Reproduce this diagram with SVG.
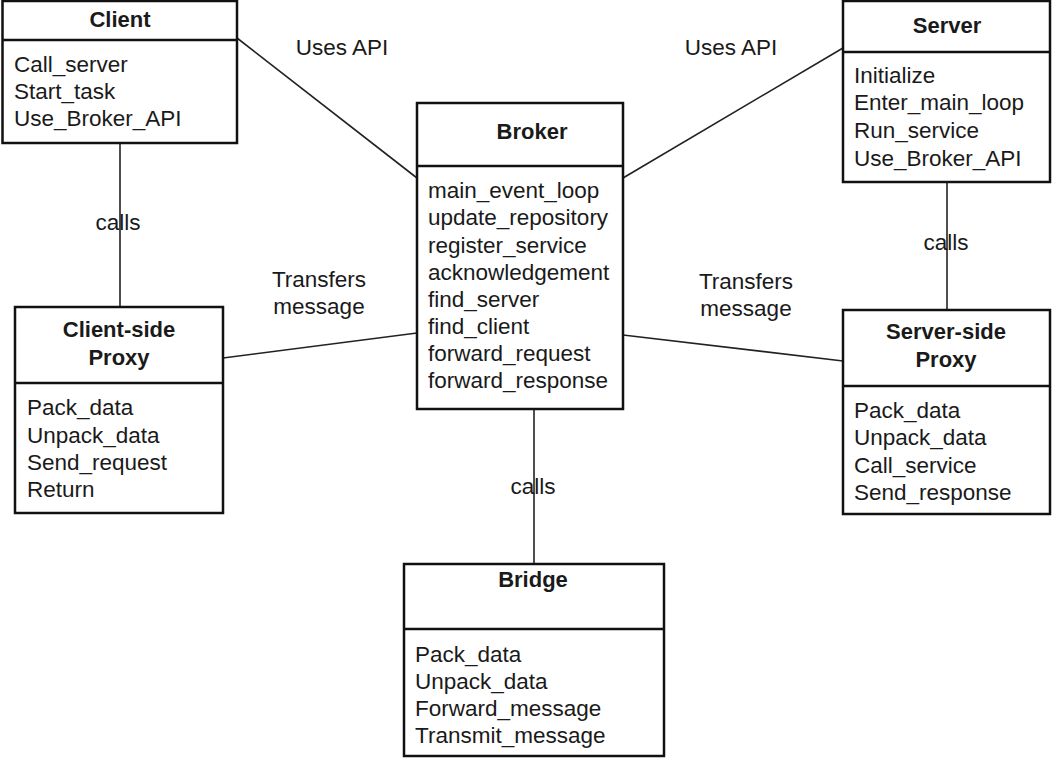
<svg xmlns="http://www.w3.org/2000/svg" width="1052" height="758" viewBox="0 0 1052 758">
<style>
.box{fill:#fff;stroke:#111;stroke-width:2.5}
.div{stroke:#111;stroke-width:2.5}
.ln{stroke:#222;stroke-width:1.6;fill:none}
text{font-family:"Liberation Sans",Arial,sans-serif;font-size:22.5px;fill:#1a1a1a}
.t{font-weight:bold;text-anchor:middle;font-size:22px}
.lbl{text-anchor:middle}
</style>
<rect width="1052" height="758" fill="#fff"/>
<g id="connectors">
<line class="ln" x1="237" y1="38" x2="417" y2="178"/>
<line class="ln" x1="623" y1="178" x2="843" y2="48"/>
<line class="ln" x1="223" y1="358" x2="417" y2="333"/>
<line class="ln" x1="623" y1="335" x2="843" y2="361"/>
<line class="ln" x1="120" y1="143" x2="120" y2="307"/>
<line class="ln" x1="947" y1="182" x2="947" y2="310"/>
<line class="ln" x1="534" y1="409" x2="534" y2="564"/>
<text class="lbl" x="342" y="55">Uses API</text>
<text class="lbl" x="731" y="55">Uses API</text>
<text class="lbl" x="118" y="230">calls</text>
<text class="lbl" x="946" y="250">calls</text>
<text class="lbl" x="533" y="494">calls</text>
<text class="lbl" x="319" y="287">Transfers</text>
<text class="lbl" x="319" y="314">message</text>
<text class="lbl" x="746" y="289">Transfers</text>
<text class="lbl" x="746" y="316">message</text>
</g>
<g id="client">
<rect class="box" x="2.5" y="1" width="234.5" height="142"/>
<line class="div" x1="2.5" y1="40" x2="237" y2="40"/>
<text class="t" x="120" y="27">Client</text>
<text x="14" y="72">Call_server</text>
<text x="14" y="99">Start_task</text>
<text x="14" y="126">Use_Broker_API</text>
</g>
<g id="server">
<rect class="box" x="843" y="1" width="207" height="181"/>
<line class="div" x1="843" y1="52" x2="1050" y2="52"/>
<text class="t" x="947" y="33">Server</text>
<text x="854" y="83">Initialize</text>
<text x="854" y="110">Enter_main_loop</text>
<text x="854" y="138">Run_service</text>
<text x="854" y="166">Use_Broker_API</text>
</g>
<g id="broker">
<rect class="box" x="417" y="103" width="206" height="306"/>
<line class="div" x1="417" y1="166" x2="623" y2="166"/>
<text class="t" x="532" y="139">Broker</text>
<text x="428" y="198">main_event_loop</text>
<text x="428" y="225">update_repository</text>
<text x="428" y="253">register_service</text>
<text x="428" y="280">acknowledgement</text>
<text x="428" y="307">find_server</text>
<text x="428" y="334">find_client</text>
<text x="428" y="361">forward_request</text>
<text x="428" y="388">forward_response</text>
</g>
<g id="client-proxy">
<rect class="box" x="15" y="307" width="208" height="206"/>
<line class="div" x1="15" y1="383" x2="223" y2="383"/>
<text class="t" x="119" y="337">Client-side</text>
<text class="t" x="119" y="365">Proxy</text>
<text x="27" y="415">Pack_data</text>
<text x="27" y="443">Unpack_data</text>
<text x="27" y="470">Send_request</text>
<text x="27" y="497">Return</text>
</g>
<g id="server-proxy">
<rect class="box" x="843" y="310" width="207" height="204"/>
<line class="div" x1="843" y1="386" x2="1050" y2="386"/>
<text class="t" x="946" y="339">Server-side</text>
<text class="t" x="946" y="367">Proxy</text>
<text x="854" y="418">Pack_data</text>
<text x="854" y="445">Unpack_data</text>
<text x="854" y="473">Call_service</text>
<text x="854" y="500">Send_response</text>
</g>
<g id="bridge">
<rect class="box" x="404" y="564" width="260" height="192"/>
<line class="div" x1="404" y1="629" x2="664" y2="629"/>
<text class="t" x="533" y="587">Bridge</text>
<text x="415" y="662">Pack_data</text>
<text x="415" y="689">Unpack_data</text>
<text x="415" y="716">Forward_message</text>
<text x="415" y="743">Transmit_message</text>
</g>
</svg>
